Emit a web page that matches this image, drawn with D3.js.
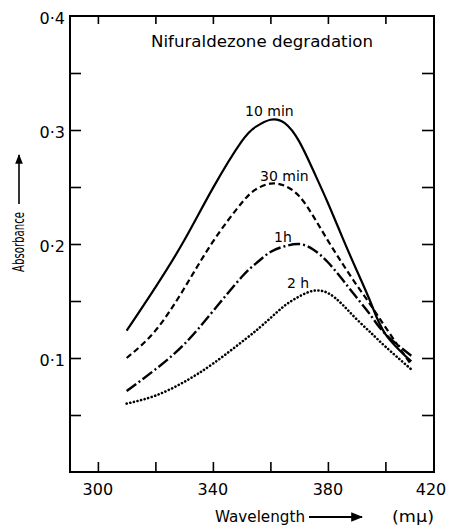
<!DOCTYPE html>
<html><head><meta charset="utf-8">
<script src="https://cdn.jsdelivr.net/npm/d3@7"></script>
<style>body{margin:0;background:#fff}svg{display:block}</style>
</head><body>
<script>
// ---- data ----
const wavelengths = [310,320,330,340,350,355,360,365,370,375,380,385,390,395,400,409];
const abs10min = [0.124,0.162,0.203,0.249,0.290,0.303,0.309,0.306,0.290,0.264,0.236,0.206,0.177,0.148,0.121,0.097];
const abs30min = [0.100,0.124,0.161,0.202,0.236,0.248,0.253,0.251,0.242,0.224,0.203,0.183,0.164,0.146,0.127,0.094];
const abs1h    = [0.071,0.090,0.112,0.141,0.171,0.183,0.193,0.198,0.200,0.195,0.184,0.169,0.153,0.137,0.121,0.102];
const abs2h    = [0.060,0.067,0.079,0.095,0.114,0.124,0.135,0.146,0.154,0.159,0.157,0.147,0.134,0.122,0.110,0.090];
const seriesNames = ["10 min","30 min","1h","2 h"];
const xTickValues = [300,320,340,360,380,400];
const xTickLabels = ["300","340","380","420"];
const xLabelValues = [300,340,380,420];
const yTickValues = [0.05,0.1,0.15,0.2,0.25,0.3,0.35];
const yLabelValues = [0.1,0.2,0.3,0.4];
const yTickLabels = ["0·1","0·2","0·3","0·4"];
const title = "Nifuraldezone degradation";

const W=450,H=530;
const svg=d3.select("body").append("svg").attr("width",W).attr("height",H);
const font="'DejaVu Sans', sans-serif";
const x=d3.scaleLinear().domain([290.3,416.9]).range([70,434]);
const y=d3.scaleLinear().domain([0,0.4]).range([472,16]);

// frame
svg.append("rect").attr("x",x.range()[0]).attr("y",y.range()[1])
  .attr("width",x.range()[1]-x.range()[0]).attr("height",y.range()[0]-y.range()[1])
  .attr("fill","none").attr("stroke","#000").attr("stroke-width",2);

// axes ticks (inward)
const ax=(g)=>{g.select(".domain").remove();g.selectAll("line").attr("stroke","#000").attr("stroke-width",1.6);g.selectAll("text").remove();};
svg.append("g").attr("transform",`translate(0,${y.range()[0]})`).call(d3.axisBottom(x).tickValues(xTickValues).tickSize(-10)).call(ax);
svg.append("g").attr("transform",`translate(0,${y.range()[1]})`).call(d3.axisTop(x).tickValues(xTickValues).tickSize(-8)).call(ax);
svg.append("g").attr("transform",`translate(${x.range()[0]},0)`).call(d3.axisLeft(y).tickValues(yTickValues).tickSize(-11)).call(ax);
svg.append("g").attr("transform",`translate(${x.range()[1]},0)`).call(d3.axisRight(y).tickValues(yTickValues).tickSize(-12)).call(ax);

// tick labels
svg.append("g").selectAll("text").data(xLabelValues).join("text")
  .attr("x",(d)=>Math.min(x(d),x.range()[1]-3)).attr("y",y.range()[0]+23)
  .attr("text-anchor","middle").attr("font-family",font).attr("font-size",16)
  .text((d,i)=>xTickLabels[i]);
svg.append("g").selectAll("text").data(yLabelValues).join("text")
  .attr("x",x.range()[0]-5).attr("y",d=>y(d)+8)
  .attr("text-anchor","end").attr("font-family",font).attr("font-size",16)
  .text((d,i)=>yTickLabels[i]);

// title
svg.append("text").attr("x",151).attr("y",47).attr("font-family",font).attr("font-size",15.5)
  .attr("textLength",222).attr("lengthAdjust","spacingAndGlyphs").text(title);

// axis titles
svg.append("defs").append("marker").attr("id","ah").attr("viewBox","0 0 10 10").attr("refX",9).attr("refY",5)
  .attr("markerWidth",6).attr("markerHeight",6).attr("orient","auto")
  .append("path").attr("d","M0,1 L10,5 L0,9 Z").attr("fill","#000");
svg.append("text").attr("transform","translate(24,242) rotate(-90)").attr("text-anchor","middle")
  .attr("font-family","'Liberation Sans Narrow','DejaVu Sans Condensed',sans-serif").attr("font-size",15)
  .attr("textLength",60).attr("lengthAdjust","spacingAndGlyphs").text("Absorbance");
svg.append("line").attr("x1",19).attr("x2",19).attr("y1",204).attr("y2",155).attr("stroke","#000").attr("stroke-width",1.6).attr("marker-end","url(#ah)");
svg.append("text").attr("x",215).attr("y",522).attr("font-family",font).attr("font-size",15)
  .attr("textLength",90).attr("lengthAdjust","spacingAndGlyphs").text("Wavelength");
svg.append("line").attr("x1",309).attr("x2",362).attr("y1",517).attr("y2",517).attr("stroke","#000").attr("stroke-width",2).attr("marker-end","url(#ah)");
svg.append("text").attr("x",392).attr("y",522).attr("font-family",font).attr("font-size",15)
  .attr("textLength",42).attr("lengthAdjust","spacingAndGlyphs").text("(mμ)");

// curves
const line=d3.line().x((d,i)=>x(wavelengths[i])).y(d=>y(d)).curve(d3.curveNatural);
const styles=[
  {data:abs10min,dash:null,w:2.2,cap:"butt"},
  {data:abs30min,dash:"6,3.5",w:2.2,cap:"butt"},
  {data:abs1h,dash:"12,3,2,3",w:2.4,cap:"butt"},
  {data:abs2h,dash:"0.1,3.6",w:2.6,cap:"round"}
];
styles.forEach(s=>{
  svg.append("path").attr("d",line(s.data)).attr("fill","none").attr("stroke","#000")
    .attr("stroke-width",s.w).attr("stroke-dasharray",s.dash).attr("stroke-linecap",s.cap);
});

// curve labels
const labelPos=[{x:245,y:116},{x:260,y:181},{x:274,y:242},{x:287,y:288}];
svg.append("g").selectAll("text").data(seriesNames).join("text")
  .attr("x",(d,i)=>labelPos[i].x).attr("y",(d,i)=>labelPos[i].y)
  .attr("font-family",font).attr("font-size",14).text(d=>d);
</script>
</body></html>
